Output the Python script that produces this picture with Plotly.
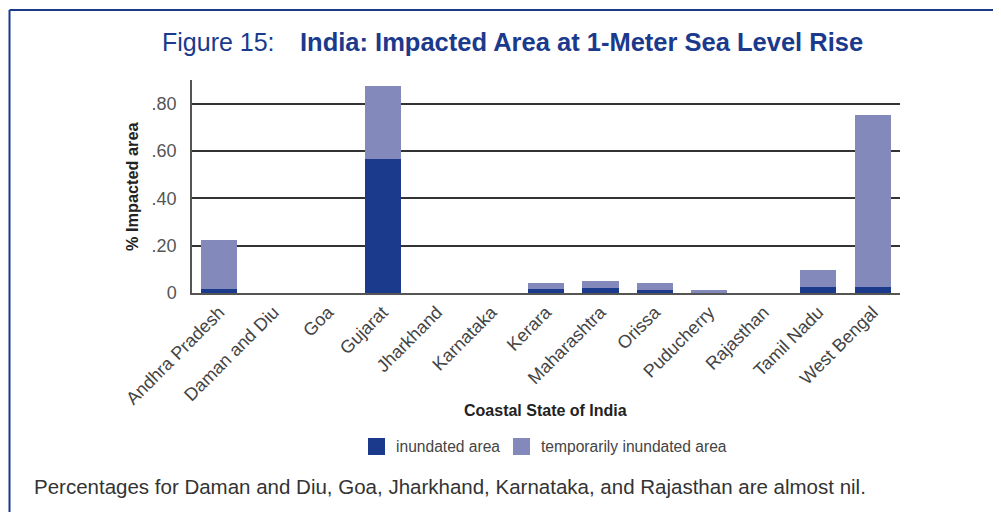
import plotly.graph_objects as go

states = ["Andhra Pradesh", "Daman and Diu", "Goa", "Gujarat", "Jharkhand", "Karnataka",
          "Kerara", "Maharashtra", "Orissa", "Puducherry", "Rajasthan", "Tamil Nadu", "West Bengal"]
inundated = [0.017, 0.0, 0.0, 0.568, 0.0, 0.0, 0.017, 0.021, 0.013, 0.002, 0.0, 0.025, 0.025]
total_impacted = [0.223, 0.0, 0.0, 0.876, 0.0, 0.0, 0.042, 0.050, 0.042, 0.013, 0.0, 0.097, 0.754]
temporarily = [round(t - i, 3) for t, i in zip(total_impacted, inundated)]

y_tickvals = [0, 0.2, 0.4, 0.6, 0.8]
y_ticktext = ["0", ".20", ".40", ".60", ".80"]

DARK = "#1b3a8c"
LIGHT = "#8489bc"
TITLE_BLUE = "#1b3a8c"
FONT = "Liberation Sans, Arial, Helvetica, sans-serif"

W, H = 1001, 512
OFF = 8  # page body margin offset
L, R, T, B = 192 - OFF, 109, 80 - OFF, 227
PW, PH = W - L - R, H - T - B


def px(x):
    # page x -> paper
    return (x - OFF - L) / PW


def py(y):
    # page y -> paper
    return (H - B - (y - OFF)) / PH


fig = go.Figure()
fig.add_trace(go.Bar(x=states, y=inundated, name="inundated area",
                     marker=dict(color=DARK, line=dict(width=0)), showlegend=False))
fig.add_trace(go.Bar(x=states, y=temporarily, name="temporarily inundated area",
                     marker=dict(color=LIGHT, line=dict(width=0)), showlegend=False))

annotations = [
    dict(text="Figure 15:", x=px(160), y=py(42), xanchor="left", yanchor="middle",
         font=dict(size=25, color=TITLE_BLUE, family=FONT)),
    dict(text="<b>India: Impacted Area at 1-Meter Sea Level Rise</b>", x=px(298), y=py(42),
         xanchor="left", yanchor="middle", font=dict(size=25.5, color=TITLE_BLUE, family=FONT)),
    dict(text="<b>Coastal State of India</b>", x=px(545), y=py(410), xanchor="center",
         yanchor="middle", font=dict(size=16, color="#222", family=FONT)),
    dict(text="<b>% Impacted area</b>", x=px(132), y=py(187), xanchor="center",
         yanchor="middle", textangle=-90, font=dict(size=16.3, color="#222", family=FONT)),
    dict(text="inundated area", x=px(394), y=py(446), xanchor="left", yanchor="middle",
         font=dict(size=15.6, color="#444", family=FONT)),
    dict(text="temporarily inundated area", x=px(539), y=py(446), xanchor="left",
         yanchor="middle", font=dict(size=15.6, color="#444", family=FONT)),
    dict(text="Percentages for Daman and Diu, Goa, Jharkhand, Karnataka, and Rajasthan are almost nil.",
         x=px(32), y=py(486), xanchor="left", yanchor="middle",
         font=dict(size=20.5, color="#333", family=FONT)),
]
for a in annotations:
    a.update(xref="paper", yref="paper", showarrow=False)

shapes = [
    # frame
    dict(type="line", x0=px(9.5), x1=px(9.5), y0=py(10), y1=py(H + 20),
         line=dict(color=DARK, width=2)),
    dict(type="line", x0=px(9.5), x1=px(W + 20), y0=py(10), y1=py(10),
         line=dict(color=DARK, width=2)),
    # legend swatches
    dict(type="rect", x0=px(368), x1=px(385), y0=py(438), y1=py(455),
         fillcolor=DARK, line=dict(width=0)),
    dict(type="rect", x0=px(513), x1=px(530), y0=py(438), y1=py(455),
         fillcolor=LIGHT, line=dict(width=0)),
]
for s in shapes:
    s.update(xref="paper", yref="paper")

fig.update_layout(
    width=W, height=H,
    margin=dict(l=L, r=R, t=T, b=B, autoexpand=False),
    barmode="stack", bargap=0.337,
    paper_bgcolor="white", plot_bgcolor="white",
    font=dict(family=FONT, color="#444"),
    annotations=annotations, shapes=shapes,
    xaxis=dict(tickangle=-45, tickfont=dict(size=18, color="#444"), showgrid=False,
               showline=True, linecolor="#555", linewidth=1.5, ticks="", range=[-0.5, 12.5]),
    yaxis=dict(range=[0, 0.9], tickvals=y_tickvals, ticktext=y_ticktext,
               tickfont=dict(size=18, color="#555"), showgrid=True, gridcolor="#333",
               gridwidth=1.6, showline=True, linecolor="#555", linewidth=1.5,
               zeroline=False, ticks="", ticklabelstandoff=10),
)

fig.write_html("out.html")
